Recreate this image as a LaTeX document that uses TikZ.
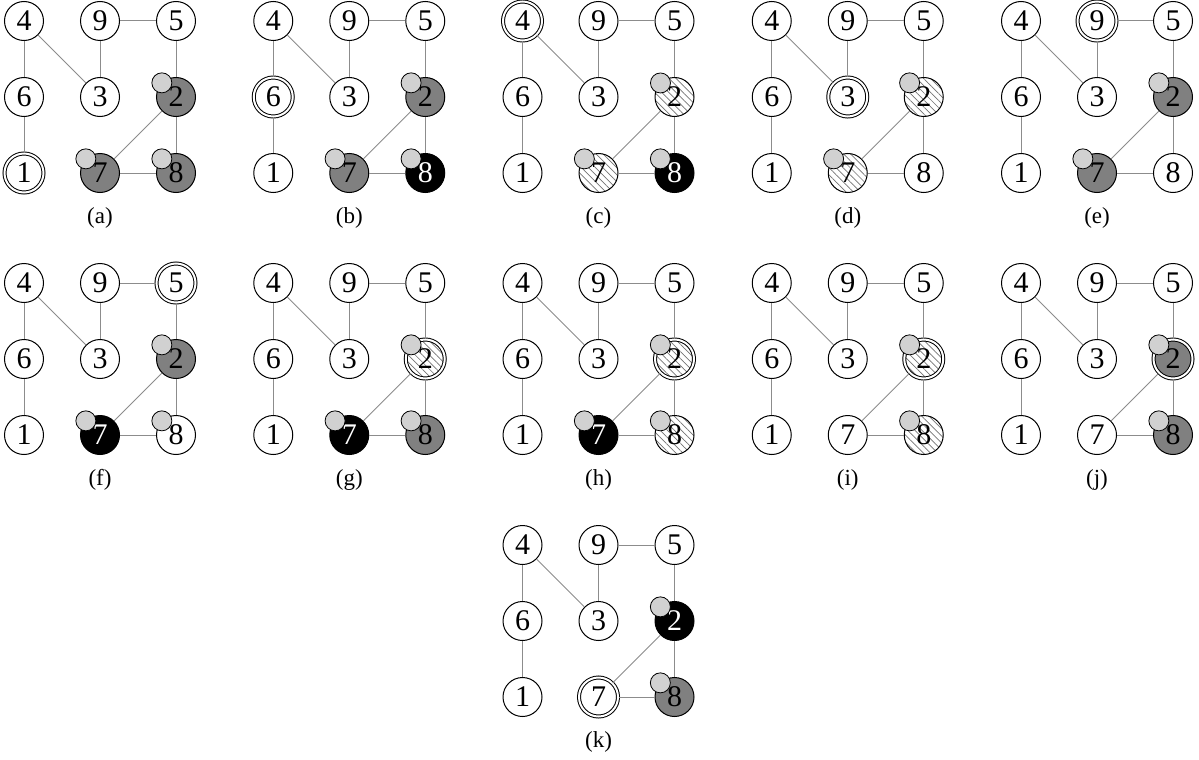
\documentclass[tikz,border=0pt]{standalone}
\usepackage{fontspec}
\setmainfont{Liberation Serif}
\usetikzlibrary{positioning,patterns.meta}
\newcommand{\nodefont}{\fontsize{30}{30}\selectfont}
\newcommand{\capfont}{\fontsize{23}{23}\selectfont}
\tikzset{
  vx/.style={circle,draw,line width=1pt,fill=white,minimum size=39pt,
    inner sep=0pt,font=\nodefont},
  rt/.style={double,double distance=2pt},
  gr/.style={fill=black!50},
  bk/.style={fill=black,text=white},
  hx/.style={pattern={Lines[angle=-45,distance=5pt,line width=0.7pt]},
    pattern color=black!55},
  tok/.style={circle,draw,line width=0.8pt,fill=black!18,minimum size=20pt,
    inner sep=0pt},
  ed/.style={draw=black!45,line width=1pt},
  capt/.style={font=\capfont},
  s1/.style={},s2/.style={},s3/.style={},s4/.style={},s5/.style={},
  s6/.style={},s7/.style={},s8/.style={},s9/.style={},
}
% #1 panel name, #2 caption, #3 nodes carrying a token
\newcommand{\gpanel}[3]{%
  \node[vx,s4] (#1-4) {4};
  \node[vx,s9,right=of #1-4] (#1-9) {9};
  \node[vx,s5,right=of #1-9] (#1-5) {5};
  \node[vx,s6,below=of #1-4] (#1-6) {6};
  \node[vx,s3,right=of #1-6] (#1-3) {3};
  \node[vx,s2,right=of #1-3] (#1-2) {2};
  \node[vx,s1,below=of #1-6] (#1-1) {1};
  \node[vx,s7,right=of #1-1] (#1-7) {7};
  \node[vx,s8,right=of #1-7] (#1-8) {8};
  \foreach \a/\b in {4/6,6/1,4/3,9/3,9/5,5/2,2/8,2/7,7/8}
    \draw[ed] (#1-\a) -- (#1-\b);
  \foreach \tk in {#3}
    \node[tok] (#1-t\tk) at (#1-\tk.135) {};
  \node[capt,below=45pt of #1-7] (#1-cap) {#2};
}
\begin{document}
\begin{tikzpicture}[x=1pt,y=1pt,on grid,node distance=76pt]
  \useasboundingbox (0,0) rectangle (1199,-760);
  % first row
  \begin{scope}[shift={(24,-21)},s1/.style={rt},s2/.style={gr},s7/.style={gr},s8/.style={gr}]
    \gpanel{a}{(a)}{2,7,8}
  \end{scope}
  \begin{scope}[shift={(273.25,-21)},s6/.style={rt},s2/.style={gr},s7/.style={gr},s8/.style={bk}]
    \gpanel{b}{(b)}{2,7,8}
  \end{scope}
  \begin{scope}[shift={(522.5,-21)},s4/.style={rt},s2/.style={hx},s7/.style={hx},s8/.style={bk}]
    \gpanel{c}{(c)}{2,7,8}
  \end{scope}
  \begin{scope}[shift={(771.75,-21)},s3/.style={rt},s2/.style={hx},s7/.style={hx}]
    \gpanel{d}{(d)}{2,7}
  \end{scope}
  \begin{scope}[shift={(1021,-21)},s9/.style={rt},s2/.style={gr},s7/.style={gr}]
    \gpanel{e}{(e)}{2,7}
  \end{scope}
  % second row
  \begin{scope}[shift={(24,-283)},s5/.style={rt},s2/.style={gr},s7/.style={bk}]
    \gpanel{f}{(f)}{2,7,8}
  \end{scope}
  \begin{scope}[shift={(273.25,-283)},s2/.style={rt,hx},s7/.style={bk},s8/.style={gr}]
    \gpanel{g}{(g)}{2,7,8}
  \end{scope}
  \begin{scope}[shift={(522.5,-283)},s2/.style={rt,hx},s7/.style={bk},s8/.style={hx}]
    \gpanel{h}{(h)}{2,7,8}
  \end{scope}
  \begin{scope}[shift={(771.75,-283)},s2/.style={rt,hx},s8/.style={hx}]
    \gpanel{i}{(i)}{2,8}
  \end{scope}
  \begin{scope}[shift={(1021,-283)},s2/.style={rt,gr},s8/.style={gr}]
    \gpanel{j}{(j)}{2,8}
  \end{scope}
  % last row
  \begin{scope}[shift={(522.5,-545)},s2/.style={bk},s7/.style={rt},s8/.style={gr}]
    \gpanel{k}{(k)}{2,8}
  \end{scope}
\end{tikzpicture}
\end{document}
